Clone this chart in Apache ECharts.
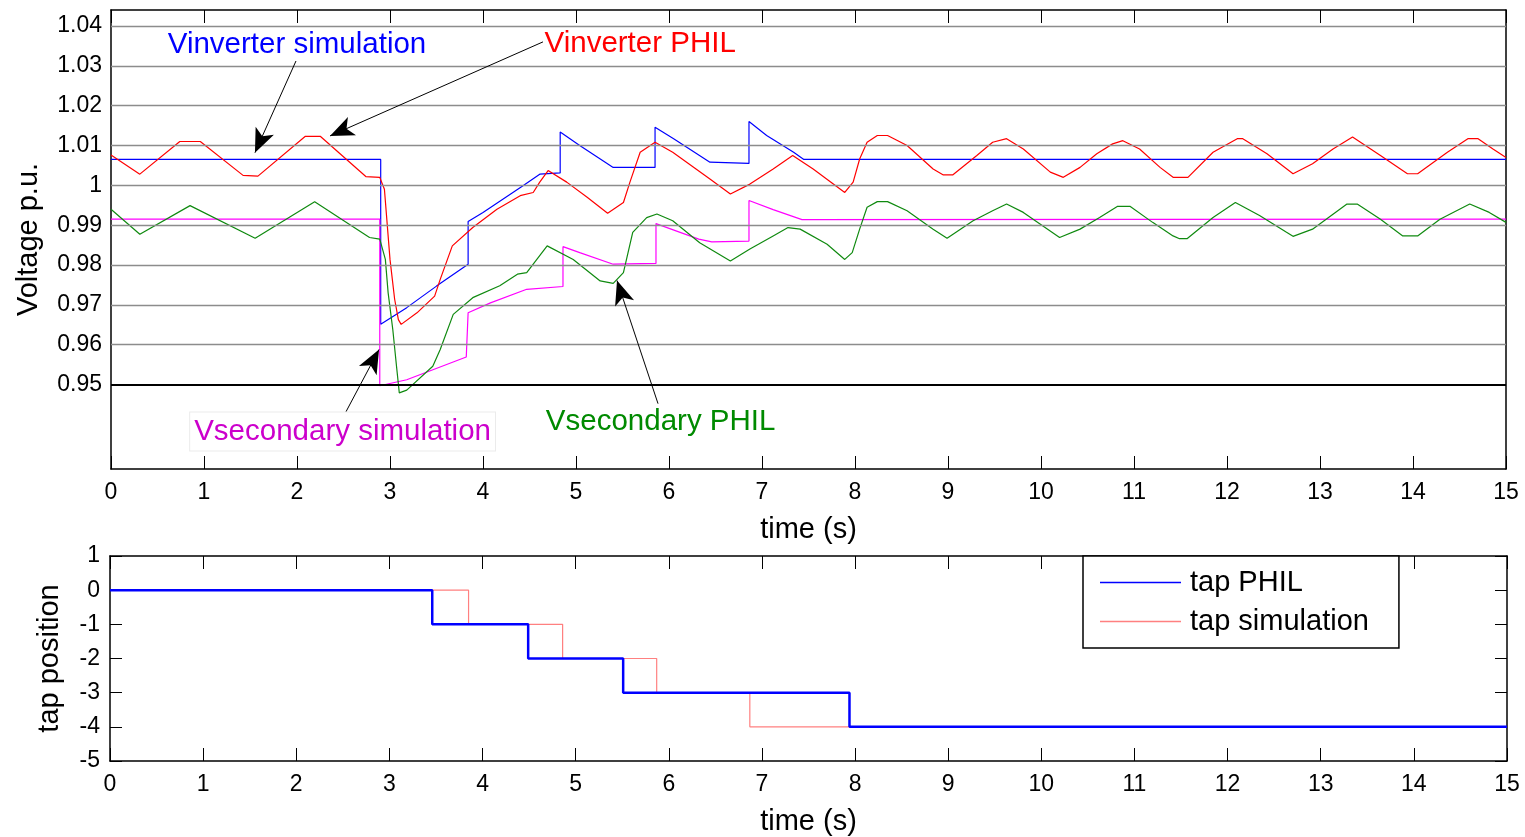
<!DOCTYPE html>
<html>
<head>
<meta charset="utf-8">
<script src="https://cdn.jsdelivr.net/npm/echarts@6/dist/echarts.min.js"></script>
<style>
  html, body { margin: 0; padding: 0; background: #fff; }
  #chart { width: 1525px; height: 837px; }
</style>
</head>
<body>
<div id="chart"></div>
<script>
  // tick values
  var voltTicks = [0.95, 0.96, 0.97, 0.98, 0.99, 1, 1.01, 1.02, 1.03, 1.04];
  var tapTicks = [-5, -4, -3, -2, -1, 0, 1];

  // [time (s), voltage p.u.]
  var vinvSim = [[0,1.0065],[2.90,1.0065],[2.90,0.9651],[3.18,0.9693],[3.50,0.9747],[3.84,0.9802],[3.84,0.9909],
    [4.00,0.9932],[4.43,0.9999],[4.61,1.0028],[4.83,1.0031],[4.83,1.0134],[5.04,1.0100],[5.40,1.0045],[5.85,1.0045],
    [5.85,1.0146],[6.05,1.0117],[6.44,1.0058],[6.86,1.0055],[6.86,1.0160],[7.05,1.0125],[7.34,1.0083],[7.45,1.0065],[15,1.0065]];

  var vinvPhil = [[0,1.0076],[0.31,1.0028],[0.74,1.0110],[0.96,1.0110],[1.42,1.0025],[1.58,1.0023],[2.09,1.0123],[2.25,1.0123],
    [2.74,1.0022],[2.89,1.0020],[2.94,0.9990],[3.00,0.9814],[3.05,0.9714],[3.09,0.9663],[3.12,0.9651],[3.29,0.9680],
    [3.48,0.9722],[3.54,0.9764],[3.67,0.9848],[3.89,0.9894],[4.15,0.9940],[4.40,0.9974],[4.54,0.9982],[4.61,1.0008],
    [4.70,1.0037],[4.90,1.0008],[5.12,0.9970],[5.34,0.9930],[5.51,0.9957],[5.58,1.0008],[5.69,1.0083],[5.85,1.0108],
    [6.04,1.0083],[6.44,1.0016],[6.66,0.9978],[6.87,1.0003],[7.12,1.0041],[7.33,1.0075],[7.55,1.0041],[7.89,0.9982],
    [7.98,1.0008],[8.05,1.0066],[8.13,1.0108],[8.24,1.0125],[8.35,1.0125],[8.56,1.0100],[8.84,1.0041],[8.95,1.0026],
    [9.05,1.0026],[9.31,1.0075],[9.48,1.0108],[9.63,1.0117],[9.81,1.0091],[10.10,1.0033],[10.24,1.0020],[10.42,1.0045],
    [10.60,1.0079],[10.77,1.0104],[10.88,1.0112],[11.06,1.0091],[11.28,1.0045],[11.42,1.0020],[11.58,1.0020],[11.85,1.0083],
    [12.11,1.0117],[12.17,1.0117],[12.43,1.0079],[12.71,1.0029],[12.92,1.0054],[13.14,1.0091],[13.35,1.0121],[13.65,1.0075],
    [13.94,1.0029],[14.05,1.0029],[14.37,1.0083],[14.59,1.0117],[14.70,1.0117],[14.86,1.0091],[15,1.0070]];

  var vsecSim = [[0,0.9915],[2.89,0.9915],[2.89,0.9497],[3.18,0.9512],[3.82,0.9569],[3.84,0.9680],[4.08,0.9705],
    [4.47,0.9739],[4.86,0.9746],[4.86,0.9846],[5.04,0.9831],[5.40,0.9802],[5.86,0.9804],[5.86,0.9904],[6.32,0.9865],
    [6.46,0.9858],[6.86,0.9860],[6.86,0.9962],[7.12,0.9939],[7.43,0.9914],[15,0.9915]];

  var vsecPhil = [[0,0.9940],[0.31,0.9877],[0.85,0.9949],[1.55,0.9867],[2.19,0.9959],[2.78,0.9869],[2.89,0.9865],
    [2.95,0.9814],[2.98,0.9730],[3.03,0.9638],[3.07,0.9546],[3.10,0.9479],[3.18,0.9486],[3.46,0.9546],[3.54,0.9588],
    [3.68,0.9676],[3.89,0.9718],[4.18,0.9748],[4.37,0.9777],[4.47,0.9781],[4.69,0.9848],[4.97,0.9814],[5.26,0.9760],
    [5.40,0.9754],[5.51,0.9781],[5.61,0.9882],[5.76,0.9919],[5.87,0.9928],[6.04,0.9911],[6.33,0.9856],[6.66,0.9810],
    [6.87,0.9840],[7.12,0.9873],[7.28,0.9894],[7.41,0.9890],[7.70,0.9852],[7.89,0.9814],[7.97,0.9831],[8.05,0.9890],
    [8.13,0.9945],[8.24,0.9959],[8.35,0.9959],[8.56,0.9936],[8.84,0.9890],[8.99,0.9867],[9.27,0.9911],[9.48,0.9936],
    [9.63,0.9953],[9.81,0.9932],[10.20,0.9869],[10.42,0.9890],[10.63,0.9919],[10.82,0.9947],[10.96,0.9947],[11.20,0.9907],
    [11.42,0.9873],[11.49,0.9866],[11.57,0.9866],[11.85,0.9919],[12.09,0.9957],[12.35,0.9924],[12.64,0.9882],[12.71,0.9872],
    [12.92,0.9890],[13.29,0.9953],[13.40,0.9953],[13.65,0.9915],[13.89,0.9873],[14.05,0.9873],[14.29,0.9915],[14.61,0.9953],
    [14.82,0.9932],[15,0.9907]];

  // tap position steps [time (s), tap]
  var tapPhil = [[0,0],[3.46,-1],[4.49,-2],[5.51,-3],[7.94,-4],[15,-4]];
  var tapSim = [[0,0],[3.85,-1],[4.86,-2],[5.87,-3],[6.87,-4],[15,-4]];

  // annotations: text centre and arrow [from, to] in data units
  var noteText = ['Vinverter simulation', 'Vinverter PHIL', 'Vsecondary simulation', 'Vsecondary PHIL'];
  var noteColor = ['#0000ff', '#ff0000', '#cc00cc', '#008a00'];
  var noteAt = [[2.0, 1.0352], [5.69, 1.0354], [2.49, 0.9382], [5.91, 0.9407]];
  var arrowFrom = [[1.989, 1.0312], [4.645, 1.0360], [2.516, 0.9427], [5.882, 0.9452]];
  var arrowTo = [[1.548, 1.0082], [2.355, 1.0124], [2.882, 0.9588], [5.441, 0.9761]];

  var FONT = 'Liberation Sans';
  var chart = echarts.init(document.getElementById('chart'));

  function xAxis(grid, pos, withLabels) {
    return {
      type: 'value', gridIndex: grid, position: pos, min: 0, max: 15, interval: 1,
      axisLine: { show: true, onZero: false, lineStyle: { color: '#000', width: 1.5 } },
      axisTick: { show: true, inside: true, length: 13, lineStyle: { color: '#000', width: 1 } },
      axisLabel: { show: withLabels, margin: 12, fontSize: 23, color: '#000', fontFamily: FONT },
      splitLine: { show: false },
      name: withLabels ? 'time (s)' : '', nameLocation: 'middle', nameGap: 46,
      nameTextStyle: { fontSize: 29, color: '#000', fontFamily: FONT }
    };
  }

  function yAxisVolt(pos, withLabels) {
    return {
      type: 'value', gridIndex: 0, position: pos, min: 0.9288, max: 1.0440,
      axisLine: { show: true, onZero: false, lineStyle: { color: '#000', width: 1.5 } },
      axisTick: { show: true, inside: true, length: 12, customValues: voltTicks, lineStyle: { color: '#000' } },
      axisLabel: { show: withLabels, customValues: voltTicks, margin: 9, fontSize: 23, color: '#000', fontFamily: FONT },
      splitLine: { show: false },
      name: withLabels ? 'Voltage p.u.' : '', nameLocation: 'middle', nameGap: 68,
      nameTextStyle: { fontSize: 29, color: '#000', fontFamily: FONT }
    };
  }

  function yAxisTap(pos, withLabels) {
    return {
      type: 'value', gridIndex: 1, position: pos, min: tapTicks[0], max: tapTicks[tapTicks.length - 1], interval: 1,
      axisLine: { show: true, onZero: false, lineStyle: { color: '#000', width: 1.5 } },
      axisTick: { show: true, inside: true, length: 12, lineStyle: { color: '#000' } },
      axisLabel: { show: withLabels, margin: 10, fontSize: 23, color: '#000', fontFamily: FONT },
      splitLine: { show: false },
      name: withLabels ? 'tap position' : '', nameLocation: 'middle', nameGap: 46,
      nameTextStyle: { fontSize: 29, color: '#000', fontFamily: FONT }
    };
  }

  function curve(name, data, color, xi, yi, width) {
    return {
      name: name, type: 'line', xAxisIndex: xi, yAxisIndex: yi, data: data,
      symbol: 'none', showSymbol: false, z: 3,
      lineStyle: { color: color, width: width }, itemStyle: { color: color }
    };
  }

  var gridLines = voltTicks.map(function (v) {
    var limit = v === 0.95;
    return { yAxis: v, lineStyle: { color: limit ? '#000' : '#8c8c8c', width: limit ? 2 : 1.3, type: 'solid' } };
  });

  var notes = noteText.map(function (t, i) {
    var boxed = i === 2;
    return {
      name: t, coord: noteAt[i],
      label: {
        color: noteColor[i],
        backgroundColor: boxed ? '#fff' : 'transparent',
        borderColor: boxed ? '#ebebeb' : 'transparent', borderWidth: boxed ? 1 : 0,
        padding: boxed ? [5, 4, 3, 4] : 0
      }
    };
  });

  var arrows = arrowFrom.map(function (a, i) {
    return [{ coord: a }, { coord: arrowTo[i] }];
  });

  chart.setOption({
    animation: false,
    backgroundColor: '#fff',
    textStyle: { fontFamily: FONT },
    grid: [
      { left: 111, top: 10, width: 1395, height: 459 },
      { left: 110, top: 556, width: 1397, height: 207 }
    ],
    xAxis: [xAxis(0, 'bottom', true), xAxis(0, 'top', false), xAxis(1, 'bottom', true), xAxis(1, 'top', false)],
    yAxis: [yAxisVolt('left', true), yAxisVolt('right', false), yAxisTap('left', true), yAxisTap('right', false)],
    legend: {
      data: ['tap PHIL', 'tap simulation'],
      orient: 'vertical', left: 1083, top: 556,
      icon: 'rect', itemWidth: 81, itemHeight: 1.5,
      padding: [12, 30, 12, 17], itemGap: 10,
      borderColor: '#000', borderWidth: 1.5, backgroundColor: '#fff',
      textStyle: { fontSize: 29, color: '#000', fontFamily: FONT, padding: [0, 0, 0, 4] }
    },
    series: [
      {
        name: 'grid', type: 'line', xAxisIndex: 0, yAxisIndex: 0, data: [], silent: true, z: 1,
        markLine: { silent: true, symbol: 'none', animation: false, label: { show: false }, data: gridLines }
      },
      curve('Vinverter simulation', vinvSim, '#0000ff', 0, 0, 1.2),
      curve('Vsecondary simulation', vsecSim, '#ff00ff', 0, 0, 1.2),
      curve('Vinverter PHIL', vinvPhil, '#ff0000', 0, 0, 1.2),
      curve('Vsecondary PHIL', vsecPhil, '#108a10', 0, 0, 1.2),
      {
        name: 'notes', type: 'line', xAxisIndex: 0, yAxisIndex: 0, data: [], silent: true, z: 5,
        markPoint: {
          symbol: 'circle', symbolSize: 1, itemStyle: { color: 'rgba(0,0,0,0)' },
          label: { show: true, position: 'inside', formatter: '{b}', fontSize: 29.5, fontFamily: FONT },
          data: notes
        },
        markLine: {
          silent: true, symbol: ['none', 'arrow'], symbolSize: [15, 24], animation: false,
          label: { show: false }, itemStyle: { color: '#000' },
          lineStyle: { color: '#000', width: 1, type: 'solid' },
          data: arrows
        }
      },
      (function () { var s = curve('tap simulation', tapSim, '#ff8080', 2, 2, 1.2); s.step = 'end'; return s; })(),
      (function () { var s = curve('tap PHIL', tapPhil, '#0000ff', 2, 2, 2.5); s.step = 'end'; return s; })()
    ]
  });
</script>
</body>
</html>
